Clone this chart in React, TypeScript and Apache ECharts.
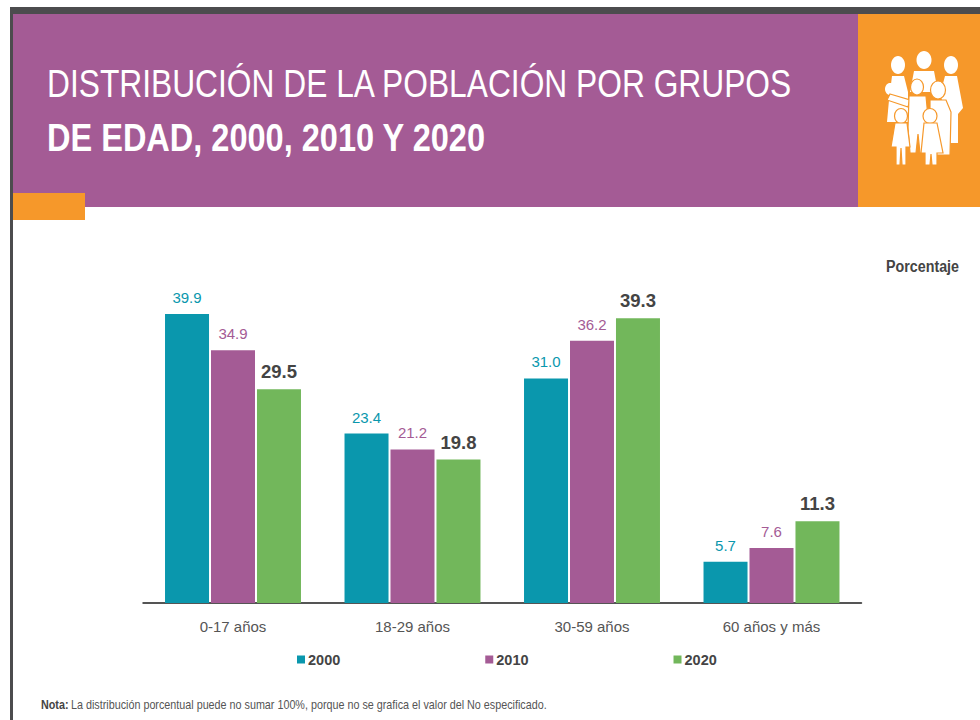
import React, { useEffect, useRef } from "react";
import * as echarts from "echarts";

const categories = ["0-17 años", "18-29 años", "30-59 años", "60 años y más"];
const values2000 = [39.9, 23.4, 31.0, 5.7];
const values2010 = [34.9, 21.2, 36.2, 7.6];
const values2020 = [29.5, 19.8, 39.3, 11.3];
const titleLine1 = "DISTRIBUCIÓN DE LA POBLACIÓN POR GRUPOS";
const titleLine2 = "DE EDAD, 2000, 2010 Y 2020";
const unitLabel = "Porcentaje";
const noteBold = "Nota:";
const noteText = "La distribución porcentual puede no sumar 100%, porque no se grafica el valor del No especificado.";

const TEAL = "#0a97ad";
const PURPLE = "#a45b95";
const GREEN = "#72b75b";
const ORANGE = "#f6982a";
const DARK = "#4c4c4e";
const FONT = "'Liberation Sans', sans-serif";

const w = "#ffffff";
const head = (cx: number, cy: number, rx: number, ry: number, stroke?: string) => ({
  type: "ellipse", shape: { cx, cy, rx, ry },
  style: { fill: w, stroke: stroke || undefined, lineWidth: stroke ? 1.2 : 0 },
});
const poly = (points: number[][], stroke?: string) => ({
  type: "polygon", shape: { points },
  style: { fill: w, stroke: stroke || undefined, lineWidth: stroke ? 1.2 : 0 },
});
const icon = [
  // back row
  head(898, 65, 7, 9), head(924, 60, 7.5, 9), head(951, 65, 7, 9),
  poly([[892, 76], [904, 76], [908, 92], [908, 122], [887, 122], [889, 100]]),
  poly([[914, 71], [934, 71], [938, 92], [910, 92]]),
  poly([[945, 76], [957, 76], [963, 108], [958, 114], [958, 143], [950, 143], [948, 115], [940, 95]]),
  // baby
  head(890, 89, 5, 6),
  poly([[890, 94], [910, 100], [908, 107], [887, 100]], ORANGE),
  // middle row
  head(917, 87, 6.5, 8, ORANGE), head(938, 90, 7.5, 9, ORANGE),
  poly([[909, 96], [926, 96], [929, 128], [926, 153], [920, 153], [918, 134], [916, 153], [910, 153], [908, 128]], ORANGE),
  poly([[930, 100], [946, 100], [951, 112], [950, 155], [933, 155], [930, 125]], ORANGE),
  // children
  head(901, 116, 6.5, 7.5, ORANGE), head(930, 116, 7, 7.5, ORANGE),
  poly([[895, 123], [907, 123], [910, 147], [906, 147], [906, 165], [902, 165], [901, 148], [900, 165], [896, 165], [896, 147], [891, 147]], ORANGE),
  poly([[924, 123], [937, 123], [943, 153], [937, 153], [937, 165], [932, 165], [931, 154], [930, 165], [925, 165], [925, 153], [921, 153]], ORANGE),
];

export default function App() {
  const ref = useRef<HTMLDivElement>(null);
  useEffect(() => {
    const chart = echarts.init(ref.current!, null, { renderer: "svg" });
    const series = (name: string, data: number[], color: string, big: boolean) => ({
      name, type: "bar", data, barWidth: 44, barGap: "4.5%",
      itemStyle: { color },
      label: {
        show: true, position: "top", distance: big ? 8 : 9,
        formatter: (p: any) => Number(p.value).toFixed(1),
        color: big ? "#444444" : color,
        fontFamily: FONT,
        fontSize: big ? 18.5 : 15,
        fontWeight: big ? "bold" : "normal",
      },
    });
    chart.setOption({
      animation: false,
      backgroundColor: "#ffffff",
      grid: { left: 143.25, right: 118.75, top: 313.3, bottom: 117, containLabel: false },
      xAxis: {
        type: "category", data: categories,
        axisTick: { show: false },
        axisLine: { lineStyle: { color: "#555555", width: 2 } },
        axisLabel: { color: "#555555", fontFamily: FONT, fontSize: 15, margin: 16 },
      },
      yAxis: { type: "value", min: 0, max: 40, show: false },
      legend: {
        left: 292, top: 647, itemGap: 145, itemWidth: 8, itemHeight: 8,
        icon: "rect",
        textStyle: { color: "#444444", fontFamily: FONT, fontSize: 14.5, fontWeight: "bold", padding: [0, 0, 0, -2] },
        data: ["2000", "2010", "2020"],
      },
      series: [
        series("2000", values2000, TEAL, false),
        series("2010", values2010, PURPLE, false),
        series("2020", values2020, GREEN, true),
      ],
      graphic: [
        { type: "rect", shape: { x: 11, y: 7, width: 969, height: 7 }, style: { fill: DARK } },
        { type: "rect", shape: { x: 10, y: 7, width: 3, height: 713 }, style: { fill: DARK } },
        { type: "rect", shape: { x: 13, y: 14, width: 845, height: 193 }, style: { fill: PURPLE } },
        { type: "rect", shape: { x: 858, y: 14, width: 122, height: 193 }, style: { fill: ORANGE } },
        { type: "rect", shape: { x: 13, y: 193, width: 72, height: 27 }, style: { fill: ORANGE } },
        { type: "text", x: 47, y: 64, scaleX: 0.814, style: { text: titleLine1, fill: "#ffffff", fontFamily: FONT, fontSize: 39 } },
        { type: "text", x: 47, y: 118, scaleX: 0.834, style: { text: titleLine2, fill: "#ffffff", fontFamily: FONT, fontSize: 39, fontWeight: "bold" } },
        { type: "text", x: 886, y: 258, scaleX: 0.84, style: { text: unitLabel, fill: "#444444", fontFamily: FONT, fontSize: 17, fontWeight: "bold" } },
        { type: "text", x: 41, y: 698, scaleX: 0.862, style: { text: noteBold, fill: "#444444", fontFamily: FONT, fontSize: 12.5, fontWeight: "bold" } },
        { type: "text", x: 71, y: 698, scaleX: 0.862, style: { text: noteText, fill: "#555555", fontFamily: FONT, fontSize: 12.5 } },
        ...icon,
      ],
    });
    return () => chart.dispose();
  }, []);
  return <div ref={ref} style={{ position: "absolute", left: 0, top: 0, width: 980, height: 720 }} />;
}
